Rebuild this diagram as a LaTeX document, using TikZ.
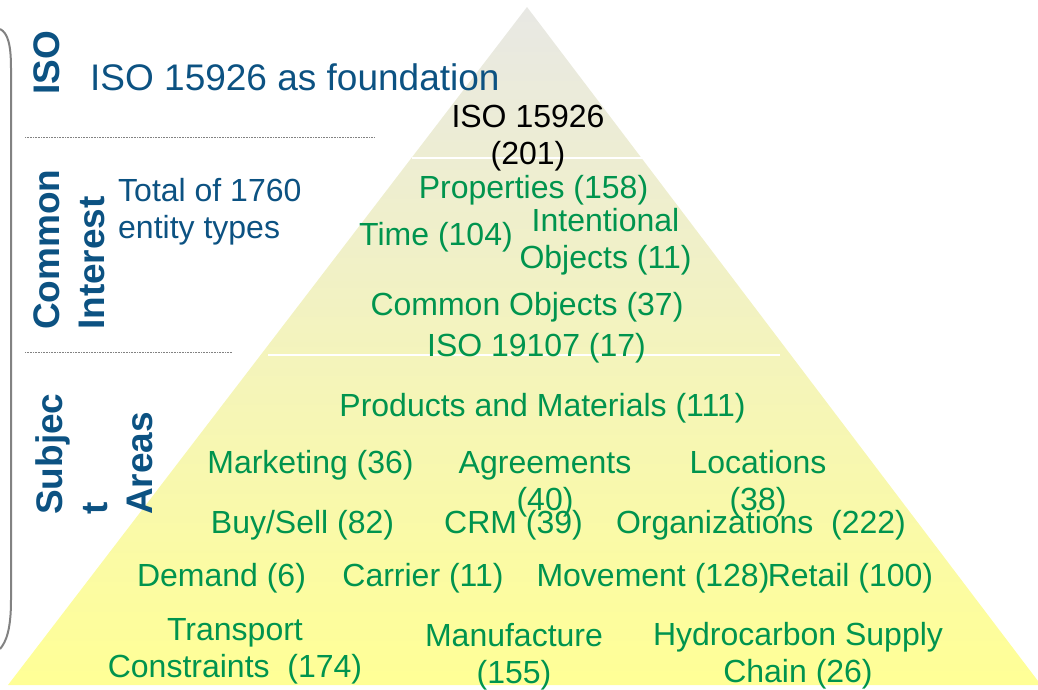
\documentclass[tikz,border=0pt]{standalone}
\usepackage{fontspec}
\setmainfont{Liberation Sans}
\definecolor{lblue}{RGB}{12,82,130}
\definecolor{lgreen}{RGB}{0,148,78}
\definecolor{topc}{RGB}{232,232,228}
\definecolor{botc}{RGB}{255,255,150}
\definecolor{brk}{RGB}{130,130,130}
\begin{document}
\begin{tikzpicture}[x=1pt,y=-1pt,
  gtxt/.style={text=lgreen, font=\fontsize{32}{37}\selectfont, inner sep=0pt, anchor=north, align=center},
  ktxt/.style={gtxt, text=black},
  btxt/.style={text=lblue, font=\fontsize{32}{37}\selectfont, inner sep=0pt, anchor=north west, align=left},
  vlab/.style={text=lblue, font=\fontsize{37}{45}\selectfont\bfseries, inner sep=0pt, anchor=north west, align=left, rotate=90},
  dotline/.style={draw=brk, line width=0.8pt, dash pattern=on 0.8pt off 0.8pt},
  sepline/.style={draw=white, line width=2pt}]
\useasboundingbox (0,0) rectangle (1038,689);
% pyramid
\shade[top color=topc, bottom color=botc] (527,7) -- (1041,685) -- (8,685) -- cycle;
\coordinate (s1a) at (412,158); \coordinate (s1b) at (643,158);
\coordinate (s2a) at (268,355); \coordinate (s2b) at (780,355);
\draw[sepline] (s1a) -- (s1b);
\draw[sepline] (s2a) -- (s2b);
% bracket
\draw[brk, line width=2pt] (0,29) .. controls (8,33) and (11,45) .. (11,68) -- (11,600) .. controls (11,630) and (6,642) .. (0,649);
% dotted separators
\coordinate (d1a) at (25,137); \coordinate (d1b) at (374,137);
\coordinate (d2a) at (25,352); \coordinate (d2b) at (232,352);
\draw[dotline] (d1a) -- (d1b);
\draw[dotline] (d2a) -- (d2b);
% vertical labels
\node[vlab] (viso) at (33,95) {ISO};
\node[vlab] (vcom) at (33,330) {Common\\Interest};
\node[vlab] (vsub) at (35,515) {Subjec\\t\\Areas};
% left texts
\node[btxt, font=\fontsize{37}{44}\selectfont] (found) at (90,63) {ISO 15926 as foundation};
\node[btxt] (total) at (118,178) {Total of 1760\\entity types};
% pyramid labels
\node[ktxt] (iso) at (528,105) {ISO 15926\\(201)};
\node[gtxt] (prop) at (533.5,175) {Properties (158)};
\node[gtxt] (time) at (436,222) {Time (104)};
\node[gtxt] (inten) at (605.5,208) {Intentional\\Objects (11)};
\node[gtxt] (comm) at (527,292) {Common Objects (37)};
\node[gtxt] (iso2) at (536.5,333) {ISO 19107 (17)};
\node[gtxt] (prod) at (542.5,393) {Products and Materials (111)};
\node[gtxt] (mark) at (310.5,450) {Marketing (36)};
\node[gtxt] (agr) at (545,451) {Agreements\\(40)};
\node[gtxt] (loc) at (758,450) {Locations\\(38)};
\node[gtxt] (buy) at (302.5,510) {Buy/Sell (82)};
\node[gtxt] (crm) at (513.5,510) {CRM (39)};
\node[gtxt] (org) at (761,510) {Organizations\ \ (222)};
\node[gtxt] (dem) at (221.5,563) {Demand (6)};
\node[gtxt] (car) at (423,563) {Carrier (11)};
\node[gtxt] (mov) at (653,563) {Movement (128)};
\node[gtxt] (ret) at (850.5,563) {Retail (100)};
\node[gtxt] (tra) at (235,618) {Transport\\Constraints\ \ (174)};
\node[gtxt] (man) at (514,623) {Manufacture\\(155)};
\node[gtxt] (hyd) at (798,622) {Hydrocarbon Supply\\Chain (26)};
\end{tikzpicture}
\end{document}
